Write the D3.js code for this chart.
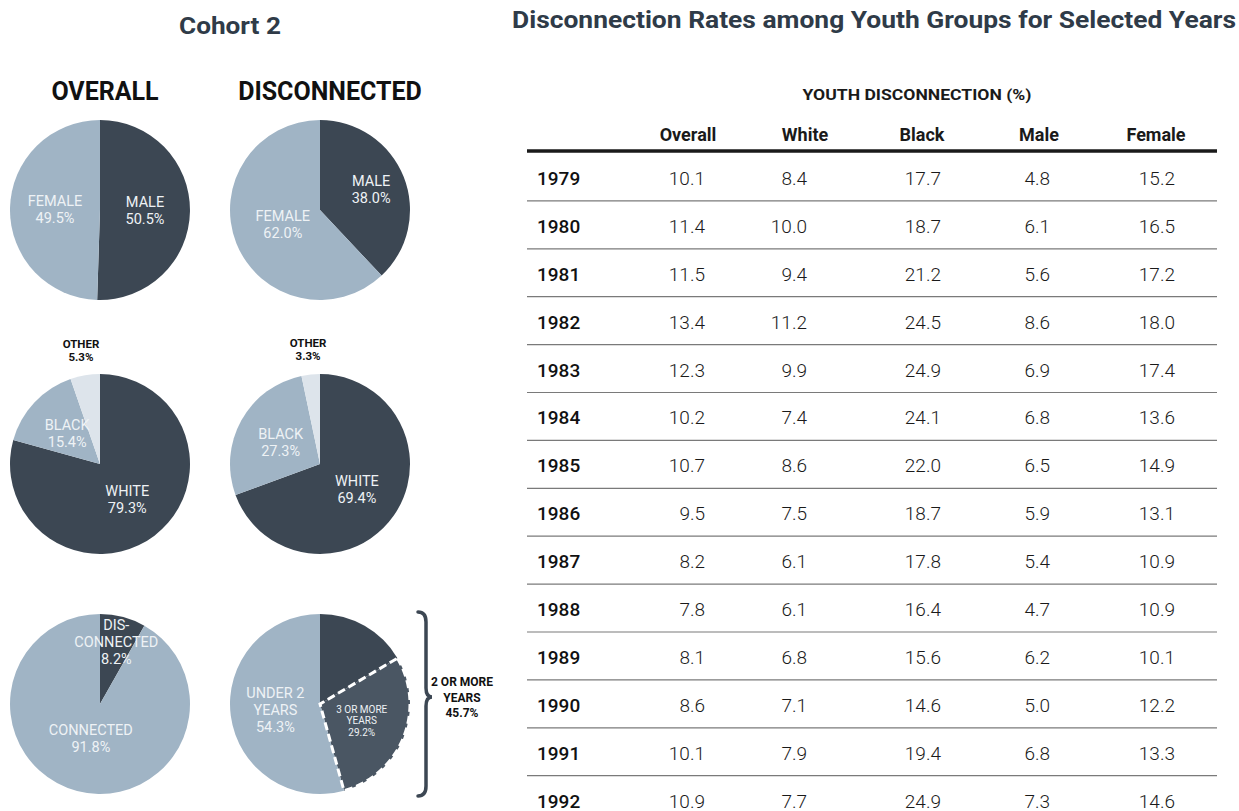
<!DOCTYPE html>
<html>
<head>
<meta charset="utf-8">
<script src="https://cdn.jsdelivr.net/npm/d3@7"></script>
<style>
  body { margin: 0; background: #fff; }
  svg { font-family: Roboto, "DejaVu Sans Condensed", sans-serif; }
</style>
</head>
<body>
<svg id="chart" width="1239" height="811"></svg>
<script>
// ---- data ----
const years = [1979, 1980, 1981, 1982, 1983, 1984, 1985, 1986, 1987, 1988, 1989, 1990, 1991, 1992];
const columns = ["Overall", "White", "Black", "Male", "Female"];
const overallRate = [10.1, 11.4, 11.5, 13.4, 12.3, 10.2, 10.7, 9.5, 8.2, 7.8, 8.1, 8.6, 10.1, 10.9];
const whiteRate   = [8.4, 10.0, 9.4, 11.2, 9.9, 7.4, 8.6, 7.5, 6.1, 6.1, 6.8, 7.1, 7.9, 7.7];
const blackRate   = [17.7, 18.7, 21.2, 24.5, 24.9, 24.1, 22.0, 18.7, 17.8, 16.4, 15.6, 14.6, 19.4, 24.9];
const maleRate    = [4.8, 6.1, 5.6, 8.6, 6.9, 6.8, 6.5, 5.9, 5.4, 4.7, 6.2, 5.0, 6.8, 7.3];
const femaleRate  = [15.2, 16.5, 17.2, 18.0, 17.4, 13.6, 14.9, 13.1, 10.9, 10.9, 10.1, 12.2, 13.3, 14.6];

const genderLabels = ["MALE", "FEMALE"];
const genderOverall = [50.5, 49.5];
const genderDisconnected = [38.0, 62.0];

const raceLabels = ["WHITE", "BLACK", "OTHER"];
const raceOverall = [79.3, 15.4, 5.3];
const raceDisconnected = [69.4, 27.3, 3.3];

const statusLabels = ["DIS-|CONNECTED", "CONNECTED"];
const statusOverall = [8.2, 91.8];

const durationLabels = ["", "3 OR MORE|YEARS", "UNDER 2|YEARS"];
const durationDisconnected = [16.5, 29.2, 54.3];
const twoOrMore = 45.7;

// ---- layout ----
const svg = d3.select("#chart");
const DARK = "#3c4753", LIGHT = "#a0b4c5", PALE = "#dde4eb", MID = "#4a5663";
const R = 90;
const pieX = [100, 320];
const pieY = [210, 464, 704];

svg.append("text").attr("x", 230).attr("y", 34).attr("text-anchor", "middle")
  .style("font-size", "24px").style("font-weight", "bold").attr("fill", "#2f3b48")
  .attr("textLength", 102).attr("lengthAdjust", "spacingAndGlyphs")
  .text("Cohort 2");
svg.append("text").attr("x", 874).attr("y", 28).attr("text-anchor", "middle")
  .style("font-size", "23px").style("font-weight", "bold").attr("fill", "#2f3b48")
  .attr("textLength", 724).attr("lengthAdjust", "spacingAndGlyphs")
  .text("Disconnection Rates among Youth Groups for Selected Years");

svg.append("text").attr("x", pieX[0] + 5).attr("y", 100).attr("text-anchor", "middle")
  .style("font-size", "25px").style("font-weight", "bold").attr("fill", "#111")
  .text("OVERALL");
svg.append("text").attr("x", pieX[1] + 10).attr("y", 100).attr("text-anchor", "middle")
  .style("font-size", "25px").style("font-weight", "bold").attr("fill", "#111")
  .text("DISCONNECTED");

const pie = d3.pie().sort(null).value(d => d.v);
const arc = d3.arc().innerRadius(0).outerRadius(R);

function drawPie(cx, cy, values, labels, colors, opts) {
  opts = opts || {};
  const data = values.map((v, i) => ({ v: v, label: labels[i], color: colors[i], i: i }));
  const g = svg.append("g").attr("transform", "translate(" + cx + "," + cy + ")");
  const arcs = pie(data);
  g.selectAll("path").data(arcs).enter().append("path")
    .attr("d", arc)
    .attr("fill", d => d.data.color);

  arcs.forEach(d => {
    if (!d.data.label) return;
    const outside = opts.outside && opts.outside.includes(d.data.i);
    const lr = outside ? 115 : (opts.lr && opts.lr[d.data.i]) || R * 0.5;
    const c = d3.arc().innerRadius(lr).outerRadius(lr).centroid(d);
    const lines = d.data.label.split("|").concat([d.data.v.toFixed(1) + "%"]);
    const fs = (opts.small && opts.small.includes(d.data.i)) ? 10 : (outside ? 11.5 : 14.5);
    const lh = fs * 1.18;
    const t = g.append("text")
      .attr("text-anchor", "middle")
      .attr("fill", outside ? "#111" : "#eef2f5")
      .style("font-size", fs + "px")
      .style("font-weight", outside ? "bold" : "normal");
    lines.forEach((ln, k) => {
      t.append("tspan").attr("x", c[0])
        .attr("y", c[1] + (k - (lines.length - 1) / 2) * lh + fs * 0.35)
        .text(ln);
    });
  });
  return { g: g, arcs: arcs };
}

drawPie(pieX[0], pieY[0], genderOverall, genderLabels, [DARK, LIGHT]);
drawPie(pieX[1], pieY[0], genderDisconnected, genderLabels, [DARK, LIGHT], { lr: [55, 40] });
drawPie(pieX[0], pieY[1], raceOverall, raceLabels, [DARK, LIGHT, PALE], { outside: [2] });
drawPie(pieX[1], pieY[1], raceDisconnected, raceLabels, [DARK, LIGHT, PALE], { outside: [2] });
drawPie(pieX[0], pieY[2], statusOverall, statusLabels, [DARK, LIGHT], { lr: [64, 36] });
const dur = drawPie(pieX[1], pieY[2], durationDisconnected, durationLabels, [DARK, MID, LIGHT], { small: [1] });

// dashed outline around the 3+ years slice
dur.g.insert("path", "text").attr("d", arc(dur.arcs[1]))
  .attr("fill", "none").attr("stroke", "#fff")
  .attr("stroke-width", 3).attr("stroke-dasharray", "8,4");

// brace for "2 or more years"
const bx = pieX[1] + R + 8, bTop = pieY[2] - R - 2, bBot = pieY[2] + R + 2, bMid = pieY[2] - 7;
const bp = d3.path();
bp.moveTo(bx, bTop);
bp.quadraticCurveTo(bx + 8, bTop, bx + 8, bTop + 10);
bp.lineTo(bx + 8, bMid - 9);
bp.quadraticCurveTo(bx + 8, bMid, bx + 14, bMid);
bp.quadraticCurveTo(bx + 8, bMid, bx + 8, bMid + 9);
bp.lineTo(bx + 8, bBot - 10);
bp.quadraticCurveTo(bx + 8, bBot, bx, bBot);
svg.append("path").attr("d", bp.toString())
  .attr("fill", "none").attr("stroke", DARK).attr("stroke-width", 3.5)
  .attr("stroke-linecap", "round");
const bt = svg.append("text").attr("text-anchor", "middle").attr("fill", "#111")
  .style("font-size", "12px").style("font-weight", "bold");
["2 OR MORE", "YEARS", twoOrMore.toFixed(1) + "%"].forEach((ln, k) => {
  bt.append("tspan").attr("x", bx + 44).attr("y", bMid - 11 + k * 15.5).text(ln);
});

// ---- table ----
const tableLeft = 527, tableRight = 1217;
const colX = d3.scalePoint().domain(columns).range([688, 1156]);
const valueRight = { Overall: 705, White: 807, Black: 941, Male: 1050, Female: 1175 };
const rowY = d3.scaleBand().domain(years).range([154, 154 + years.length * 47.9]);
const series = { Overall: overallRate, White: whiteRate, Black: blackRate, Male: maleRate, Female: femaleRate };

svg.append("text").attr("x", 917).attr("y", 100).attr("text-anchor", "middle")
  .style("font-size", "15px").style("font-weight", "bold").attr("fill", "#1a1a1a")
  .attr("textLength", 229).attr("lengthAdjust", "spacingAndGlyphs")
  .text("YOUTH DISCONNECTION (%)");

svg.selectAll(".colhead").data(columns).enter().append("text")
  .attr("class", "colhead")
  .attr("x", d => colX(d)).attr("y", 141)
  .attr("text-anchor", "middle")
  .style("font-size", "18px").style("font-weight", "bold").attr("fill", "#1a1a1a")
  .text(d => d);

svg.append("line").attr("x1", tableLeft).attr("x2", tableRight)
  .attr("y1", 151).attr("y2", 151)
  .attr("stroke", "#1a1a1a").attr("stroke-width", 3.5);

svg.selectAll(".rowline").data(years.slice(0, -1)).enter().append("line")
  .attr("class", "rowline")
  .attr("x1", tableLeft).attr("x2", tableRight)
  .attr("y1", d => rowY(d) + rowY.bandwidth() - 1)
  .attr("y2", d => rowY(d) + rowY.bandwidth() - 1)
  .attr("stroke", "#7a7a7a").attr("stroke-width", 1.2);

const rows = svg.selectAll(".row").data(years).enter().append("g")
  .attr("class", "row")
  .attr("transform", d => "translate(0," + (rowY(d) + rowY.bandwidth() / 2) + ")");

rows.append("text").attr("x", 537).attr("y", 7)
  .style("font-size", "19px").style("font-weight", 500).attr("fill", "#111")
  .text(d => d);

columns.forEach(c => {
  rows.append("text")
    .attr("x", valueRight[c]).attr("y", 7)
    .attr("text-anchor", "end")
    .style("font-size", "19px").style("font-weight", 300).attr("fill", "#1a1a1a")
    .text((d, i) => series[c][i].toFixed(1));
});
</script>
</body>
</html>
